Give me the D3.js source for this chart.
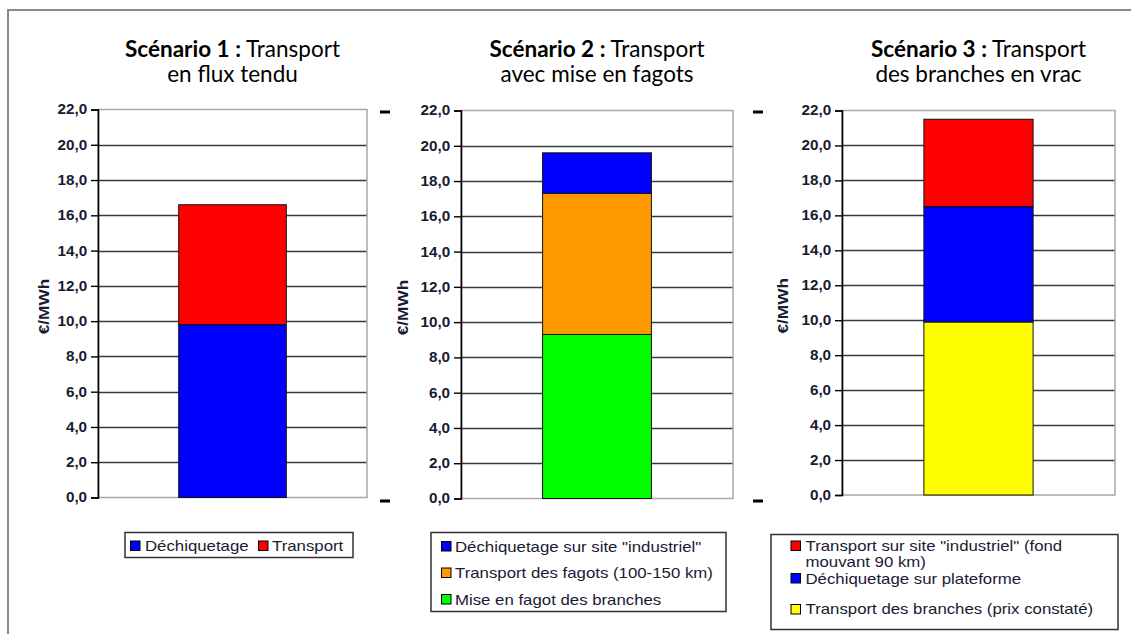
<!DOCTYPE html>
<html>
<head>
<meta charset="utf-8">
<script src="https://cdn.jsdelivr.net/npm/d3@7"></script>
<style>
  html, body { margin: 0; padding: 0; background: #fff; }
  svg { display: block; }
</style>
</head>
<body>
<svg id="chart" width="1131" height="634"></svg>
<script>
// ---------- DATA ----------
const titleBold = ["Scénario 1 :", "Scénario 2 :", "Scénario 3 :"];
const titleRest = [" Transport", " Transport", " Transport"];
const titleLine2 = ["en flux tendu", "avec mise en fagots", "des branches en vrac"];
const yTicks = [0, 2, 4, 6, 8, 10, 12, 14, 16, 18, 20, 22];
const yTitle = "€/MWh";

// Scenario 1 (bottom -> top)
const s1Series = ["Déchiquetage", "Transport"];
const s1Values = [9.8, 6.8];
const s1Colors = ["#0000ff", "#ff0000"];

// Scenario 2 (bottom -> top)
const s2Series = ["Mise en fagot des branches", "Transport des fagots (100-150 km)", "Déchiquetage sur site \"industriel\""];
const s2Values = [9.3, 8.0, 2.3];
const s2Colors = ["#00ff00", "#ff9900", "#0000ff"];

// Scenario 3 (bottom -> top)
const s3Series = ["Transport des branches (prix constaté)", "Déchiquetage sur plateforme", "Transport sur site \"industriel\" (fond mouvant 90 km)"];
const s3Values = [9.9, 6.6, 5.0];
const s3Colors = ["#ffff00", "#0000ff", "#ff0000"];

// ---------- LAYOUT ----------
const svg = d3.select("#chart");
const textColor = "#1a1a33";
const sansFont = "'Liberation Sans', Arial, sans-serif";

// outer frame (only top & left visible)
svg.append("rect").attr("x", 8).attr("y", 10).attr("width", 1140).attr("height", 660)
  .attr("fill", "none").attr("stroke", "#8a8a8a").attr("stroke-width", 2);

const panels = [
  { series: s1Series, values: s1Values, colors: s1Colors, x0: 98, x1: 367, yTop: 109.5, yBot: 497.5, titleY: 57, yTitleX: 44 },
  { series: s2Series, values: s2Values, colors: s2Colors, x0: 461, x1: 733, yTop: 110.5, yBot: 498.5, titleY: 57, yTitleX: 403 },
  { series: s3Series, values: s3Values, colors: s3Colors, x0: 842, x1: 1115, yTop: 110.5, yBot: 495, titleY: 57, yTitleX: 783 }
];

panels.forEach((p, i) => {
  const g = svg.append("g");
  const y = d3.scaleLinear().domain([0, 22]).range([p.yBot, p.yTop]);
  const x = d3.scaleBand().domain(["bar"]).range([p.x0, p.x1]).paddingInner(0).paddingOuter(0.75);

  // gridlines
  g.append("g").selectAll("line").data(yTicks.filter(t => t > 0 && t < 22)).join("line")
    .attr("x1", p.x0).attr("x2", p.x1)
    .attr("y1", d => Math.round(y(d)) + 0.5).attr("y2", d => Math.round(y(d)) + 0.5)
    .attr("stroke", "#3a3a3a").attr("stroke-width", 1.6);

  // plot border (gray)
  g.append("rect").attr("x", p.x0).attr("y", y(22)).attr("width", p.x1 - p.x0).attr("height", y(0) - y(22))
    .attr("fill", "none").attr("stroke", "#a8a8a8").attr("stroke-width", 1.5);

  // stacked bar
  let acc = 0;
  const stacks = p.values.map((v, k) => { const s = { y0: acc, y1: acc + v, c: p.colors[k] }; acc += v; return s; });
  g.append("g").selectAll("rect").data(stacks).join("rect")
    .attr("x", x("bar")).attr("width", x.bandwidth())
    .attr("y", d => y(d.y1)).attr("height", d => y(d.y0) - y(d.y1))
    .attr("fill", d => d.c).attr("stroke", "#111").attr("stroke-width", 1);

  // y axis
  const axis = d3.axisLeft(y).tickValues(yTicks).tickSize(7).tickPadding(3)
    .tickFormat(d => d3.format(".1f")(d).replace(".", ","));
  const ag = g.append("g").attr("transform", `translate(${p.x0},0)`).call(axis);
  ag.attr("font-size", null).attr("font-family", null);
  ag.select(".domain").attr("stroke", "#000").attr("stroke-width", 1.6);
  ag.selectAll(".tick line").attr("stroke", "#000").attr("stroke-width", 1.4);
  ag.selectAll(".tick text").attr("fill", textColor)
    .attr("font-family", sansFont).attr("font-size", 14).attr("font-weight", "bold")
    .attr("transform", "scale(1.09,1)");

  // y title
  g.append("text").attr("transform", `translate(${p.yTitleX},${(p.yTop + p.yBot) / 2 + 3}) rotate(-90) scale(1.15,1)`)
    .attr("text-anchor", "middle").attr("dy", "0.35em")
    .attr("font-family", sansFont).attr("font-size", 15).attr("font-weight", "bold")
    .attr("fill", textColor).text(yTitle);

  // title
  const cx = (p.x0 + p.x1) / 2;
  const t1 = g.append("text").attr("x", cx).attr("y", p.titleY).attr("text-anchor", "middle")
    .attr("font-family", "Lato, 'Open Sans', sans-serif").attr("font-size", 22.5).attr("fill", "#000");
  t1.append("tspan").attr("font-weight", "bold").text(titleBold[i]);
  t1.append("tspan").text(titleRest[i]);
  g.append("text").attr("x", cx).attr("y", p.titleY + 25).attr("text-anchor", "middle")
    .attr("font-family", "Lato, 'Open Sans', sans-serif").attr("font-size", 22.5).attr("fill", "#000")
    .text(titleLine2[i]);
});

// selection handle dashes
const dashes = [[380, 112], [380, 501], [753, 112], [753, 501]];
svg.append("g").selectAll("rect").data(dashes).join("rect")
  .attr("x", d => d[0]).attr("y", d => d[1] - 1.5).attr("width", 10).attr("height", 3).attr("fill", "#000");

// ---------- LEGENDS ----------
function legendBox(x, y, w, h) {
  svg.append("rect").attr("x", x).attr("y", y).attr("width", w).attr("height", h)
    .attr("fill", "#fff").attr("stroke", "#333").attr("stroke-width", 1.5);
}
function legendItem(sx, sy, color, tx, lines, baselines) {
  svg.append("rect").attr("x", sx).attr("y", sy).attr("width", 9.5).attr("height", 9.5)
    .attr("fill", color).attr("stroke", "#000").attr("stroke-width", 1);
  lines.forEach((ln, k) => {
    svg.append("text").attr("transform", `translate(${tx},${baselines[k]}) scale(1.2,1)`)
      .attr("font-family", sansFont).attr("font-size", 14).attr("fill", textColor).text(ln);
  });
}

// Legend 1
legendBox(125, 532.5, 228, 25);
legendItem(130.5, 541, s1Colors[0], 145, [s1Series[0]], [550.5]);
legendItem(258.5, 541, s1Colors[1], 272, [s1Series[1]], [550.5]);

// Legend 2 (top -> bottom order)
legendBox(431, 532.5, 295, 79);
legendItem(441.5, 541.5, s2Colors[2], 455, [s2Series[2]], [551.5]);
legendItem(441.5, 568, s2Colors[1], 455, [s2Series[1]], [578]);
legendItem(441.5, 594.5, s2Colors[0], 455, [s2Series[0]], [604.5]);

// Legend 3 (top -> bottom order)
legendBox(771, 534.5, 347, 95);
legendItem(791, 541, s3Colors[2], 805.5, ["Transport sur site \"industriel\" (fond", "mouvant 90 km)"], [550.5, 566.5]);
legendItem(791, 573.5, s3Colors[1], 805.5, [s3Series[1]], [583.5]);
legendItem(791, 604.5, s3Colors[0], 805.5, [s3Series[0]], [614]);
</script>
</body>
</html>
